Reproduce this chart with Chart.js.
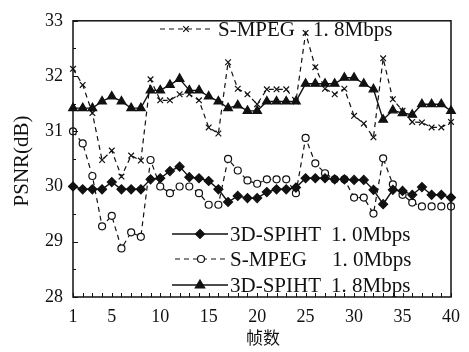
<!DOCTYPE html>
<html><head><meta charset="utf-8">
<script src="https://cdn.jsdelivr.net/npm/chart.js@4/dist/chart.umd.min.js"></script>
<style>html,body{margin:0;padding:0;background:#fff}canvas{display:block}</style>
</head><body>
<canvas id="c" width="469" height="352"></canvas>
<script>
const frames = [1,2,3,4,5,6,7,8,9,10,11,12,13,14,15,16,17,18,19,20,21,22,23,24,25,26,27,28,29,30,31,32,33,34,35,36,37,38,39,40];
const xTickLabels = [1,5,10,15,20,25,30,35,40];
const yTickValues = [28,29,30,31,32,33];
const spiht10 = [30.0,29.95,29.95,29.95,30.08,29.95,29.95,29.95,30.13,30.15,30.28,30.36,30.17,30.15,30.1,29.95,29.72,29.83,29.79,29.79,29.9,29.95,29.95,29.98,30.15,30.15,30.15,30.13,30.13,30.12,30.12,29.94,29.68,29.94,29.92,29.85,29.99,29.85,29.85,29.8];
const smpeg10 = [31.0,30.78,30.19,29.28,29.47,28.88,29.17,29.09,30.48,30.0,29.88,30.0,30.0,29.88,29.67,29.67,30.5,30.29,30.11,30.05,30.13,30.13,30.13,29.88,30.88,30.42,30.24,30.13,30.13,29.8,29.8,29.51,30.51,30.04,29.85,29.71,29.64,29.64,29.64,29.64];
const spiht18 = [31.42,31.42,31.42,31.54,31.63,31.54,31.42,31.42,31.74,31.74,31.84,31.95,31.74,31.74,31.63,31.54,31.42,31.47,31.37,31.37,31.54,31.54,31.54,31.54,31.86,31.86,31.86,31.86,31.97,31.97,31.86,31.76,31.21,31.38,31.33,31.3,31.49,31.49,31.49,31.37];
const smpeg18 = [32.13,31.84,31.33,30.48,30.65,30.18,30.56,30.47,31.94,31.56,31.56,31.67,31.67,31.56,31.07,30.96,32.25,31.77,31.67,31.49,31.76,31.76,31.76,31.54,32.78,32.16,31.77,31.67,31.77,31.28,31.14,30.89,32.32,31.58,31.37,31.17,31.16,31.07,31.07,31.17];
const seriesNames = ['3D-SPIHT','S-MPEG','3D-SPIHT','S-MPEG'];
const seriesRates = ['1. 0Mbps','1. 0Mbps','1. 8Mbps','1. 8Mbps'];
const yTitle = 'PSNR(dB)';
const xTitle = '帧数';

const SERIF = '"Liberation Serif", "DejaVu Serif", serif';
const BLACK = '#111';

const styles = [
  {pointStyle:'rectRot', radius:4.5, fill:BLACK, dash:[], lw:1.4},
  {pointStyle:'circle', radius:3.5, fill:'#fff', dash:[5,4], lw:1.2},
  {pointStyle:'triangle', radius:5, fill:BLACK, dash:[], lw:1.4},
  {pointStyle:'crossRot', radius:4, fill:BLACK, dash:[5,4], lw:1.2}
];
const values = [spiht10, smpeg10, spiht18, smpeg18];

const datasets = values.map((v,i)=>({
  label: seriesNames[i] + ' ' + seriesRates[i],
  data: v,
  borderColor: BLACK,
  backgroundColor: styles[i].fill,
  borderWidth: styles[i].lw,
  borderDash: styles[i].dash,
  pointStyle: styles[i].pointStyle,
  pointRadius: styles[i].radius,
  pointBorderWidth: 1.2,
  pointBorderColor: BLACK,
  pointBackgroundColor: styles[i].fill,
  tension: 0,
  fill: false
}));

function drawMarker(ctx, style, x, y){
  ctx.save();
  ctx.setLineDash([]);
  ctx.strokeStyle = BLACK; ctx.fillStyle = style.fill; ctx.lineWidth = 1.2;
  const r = style.radius;
  ctx.beginPath();
  if (style.pointStyle === 'rectRot') {
    ctx.moveTo(x, y-r); ctx.lineTo(x+r, y); ctx.lineTo(x, y+r); ctx.lineTo(x-r, y); ctx.closePath();
    ctx.fill(); ctx.stroke();
  } else if (style.pointStyle === 'circle') {
    ctx.arc(x, y, r, 0, Math.PI*2); ctx.fill(); ctx.stroke();
  } else if (style.pointStyle === 'triangle') {
    ctx.moveTo(x, y-r); ctx.lineTo(x+r*0.95, y+r*0.6); ctx.lineTo(x-r*0.95, y+r*0.6); ctx.closePath();
    ctx.fill(); ctx.stroke();
  } else {
    const d = r*0.7;
    ctx.moveTo(x-d, y-d); ctx.lineTo(x+d, y+d); ctx.moveTo(x+d, y-d); ctx.lineTo(x-d, y+d); ctx.stroke();
  }
  ctx.restore();
}

const decor = {
  id: 'decor',
  afterDraw(chart){
    const ctx = chart.ctx, ca = chart.chartArea;
    const xs = chart.scales.x, ys = chart.scales.y;
    ctx.save();
    ctx.strokeStyle = BLACK; ctx.lineWidth = 1.5; ctx.setLineDash([]);
    ctx.strokeRect(ca.left, ca.top, ca.right-ca.left, ca.bottom-ca.top);
    ctx.lineWidth = 1;
    frames.forEach((f, i) => {
      const x = Math.round(xs.getPixelForValue(i)) + 0.5;
      ctx.beginPath(); ctx.moveTo(x, ca.bottom); ctx.lineTo(x, ca.bottom - 4); ctx.stroke();
    });
    for (let v = ys.min; v <= ys.max + 1e-9; v += 0.5) {
      const y = Math.round(ys.getPixelForValue(v)) + 0.5;
      const len = (Math.abs(v - Math.round(v)) < 1e-6) ? 5 : 3;
      ctx.beginPath(); ctx.moveTo(ca.left, y); ctx.lineTo(ca.left + len, y); ctx.stroke();
    }
    ctx.fillStyle = BLACK;
    ctx.font = '21px ' + SERIF;
    ctx.textAlign = 'center'; ctx.textBaseline = 'middle';
    ctx.save();
    ctx.translate(22, (ca.top + ca.bottom)/2 + 2);
    ctx.rotate(-Math.PI/2);
    ctx.fillText(yTitle, 0, 0);
    ctx.restore();
    ctx.font = '17px "Noto Sans CJK SC", sans-serif';
    ctx.fillText(xTitle, (ca.left + ca.right)/2 + 1, 338);
    const legFont = '21px ' + SERIF;
    const entries = [
      {i:3, lx0:160, lx1:212, y:29, tx:218, rx:313},
      {i:0, lx0:172, lx1:228, y:234, tx:230, rx:331},
      {i:1, lx0:175, lx1:227, y:259, tx:230, rx:332},
      {i:2, lx0:172, lx1:228, y:285, tx:230, rx:331}
    ];
    entries.forEach(e => {
      const st = styles[e.i];
      ctx.save();
      ctx.strokeStyle = BLACK; ctx.lineWidth = st.lw; ctx.setLineDash(st.dash);
      ctx.beginPath(); ctx.moveTo(e.lx0, e.y); ctx.lineTo(e.lx1, e.y); ctx.stroke();
      ctx.restore();
      drawMarker(ctx, st, (e.lx0 + e.lx1)/2, e.y);
      ctx.fillStyle = BLACK; ctx.font = legFont;
      ctx.textAlign = 'left'; ctx.textBaseline = 'middle';
      ctx.fillText(seriesNames[e.i], e.tx, e.y + 1, 91);
      ctx.fillText(seriesRates[e.i], e.rx, e.y + 1);
    });
    ctx.restore();
  }
};

new Chart(document.getElementById('c'), {
  type: 'line',
  data: { labels: frames.map(String), datasets },
  options: {
    responsive: false,
    animation: false,
    devicePixelRatio: 1,
    layout: { padding: { left: 0, right: 15, top: 14, bottom: 0 } },
    plugins: { legend: { display: false }, tooltip: { enabled: false } },
    scales: {
      x: {
        type: 'category',
        offset: false,
        grid: { display: false, drawTicks: false },
        border: { display: false },
        ticks: {
          autoSkip: false, maxRotation: 0, minRotation: 0, padding: 9,
          color: BLACK, font: { family: SERIF, size: 18 },
          callback: (val, idx) => xTickLabels.includes(frames[idx]) ? String(frames[idx]) : ''
        },
        afterFit: s => { s.height = 55; }
      },
      y: {
        min: 28, max: 33,
        grid: { display: false, drawTicks: false },
        border: { display: false },
        afterBuildTicks: s => { s.ticks = yTickValues.map(v => ({ value: v })); },
        ticks: { padding: 10, color: BLACK, font: { family: SERIF, size: 18 } },
        afterFit: s => { s.width = 73; }
      }
    }
  },
  plugins: [decor]
});
</script>
</body></html>
